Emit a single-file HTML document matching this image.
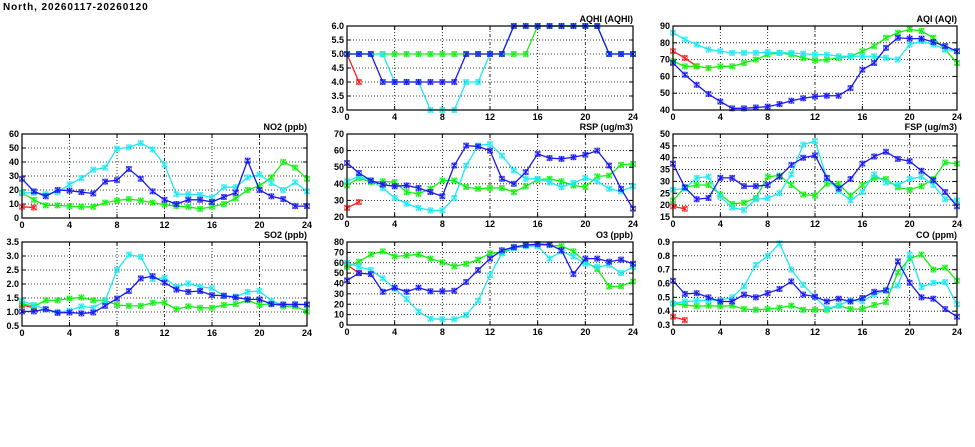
<!DOCTYPE html>
<html><head><meta charset="utf-8"><style>
html,body{margin:0;padding:0;background:#fff;width:975px;height:447px;overflow:hidden}
svg text{font-family:"Liberation Sans",sans-serif;font-weight:bold;font-size:9px;fill:#000}
</style></head><body>
<svg id="s" width="975" height="447" xmlns="http://www.w3.org/2000/svg">
<text x="3" y="10" style="font-size:10px;letter-spacing:0.9px">North, 20260117-20260120</text>
</svg>
<script>
const S=document.getElementById('s');
function el(t,a){const e=document.createElementNS('http://www.w3.org/2000/svg',t);for(const k in a)e.setAttribute(k,a[k]);S.appendChild(e);return e;}
function panel(x0,y0,w,h,ymin,ymax,step,dec,title,series){
  const X=v=>x0+v/24*w, Y=v=>y0+h-(v-ymin)/(ymax-ymin)*h;
  el('rect',{x:x0,y:y0,width:w,height:h,fill:'#fff',stroke:'none'});
  const n=Math.round((ymax-ymin)/step);
  for(let i=0;i<=n;i++){const v=ymin+i*step,y=Y(v);
    if(i>0&&i<n)el('line',{x1:x0,x2:x0+w,y1:y,y2:y,stroke:'#000','stroke-width':0.8,'stroke-dasharray':'1,2'});
    el('line',{x1:x0,x2:x0+4,y1:y,y2:y,stroke:'#000'});el('line',{x1:x0+w-4,x2:x0+w,y1:y,y2:y,stroke:'#000'});
    const t=el('text',{x:x0-3,y:y+3,'text-anchor':'end'});t.textContent=v.toFixed(dec);}
  for(let h2=0;h2<=24;h2+=4){const x=X(h2);
    if(h2>0&&h2<24)el('line',{x1:x,x2:x,y1:y0,y2:y0+h,stroke:'#000','stroke-width':0.8,'stroke-dasharray':(h2==12||h2==20)?'3,2,1,2':'1,2'});
    el('line',{x1:x,x2:x,y1:y0+h,y2:y0+h-4,stroke:'#000'});el('line',{x1:x,x2:x,y1:y0,y2:y0+4,stroke:'#000'});
    const t=el('text',{x:x,y:y0+h+10,'text-anchor':'middle'});t.textContent=h2;}
  const cols=['#ff2020','#10f010','#20e8f0','#1818f0'];
  series.forEach((d,si)=>{const c=cols[si];
    const pts=d.map((v,i)=>[X(i),Y(v)]);
    el('polyline',{points:pts.map(p=>p.join(',')).join(' '),fill:'none',stroke:c,'stroke-width':1.3});
    pts.forEach(p=>{el('rect',{x:p[0]-2.5,y:p[1]-2.5,width:5,height:5,fill:'none',stroke:c,'stroke-width':0.9,opacity:0.6});
      el('path',{d:`M${p[0]-2.5},${p[1]-2.5}L${p[0]+2.5},${p[1]+2.5}M${p[0]+2.5},${p[1]-2.5}L${p[0]-2.5},${p[1]+2.5}M${p[0]},${p[1]-3}V${p[1]+3}`,stroke:c,'stroke-width':1});});
  });
  el('rect',{x:x0,y:y0,width:w,height:h,fill:'none',stroke:'#000','stroke-width':1.2});
  const t=el('text',{x:x0+w,y:y0-4,'text-anchor':'end'});t.textContent=title;
}
const r5=[5,5,5,5,5,5,5,5,5,5,5,5,5,5,5,5,6,6,6,6,6,6,5,5,5];
panel(347,26,286,84,3,6,0.5,1,'AQHI (AQHI)',[[5,4],r5,
[5,5,5,5,4,4,4,3,3,3,4,4,5,5,6,6,6,6,6,6,6,6,5,5,5],
[5,5,5,4,4,4,4,4,4,4,5,5,5,5,6,6,6,6,6,6,6,6,5,5,5]]);
panel(673,26,284,84,40,90,10,0,'AQI (AQI)',[[75,71,66],
[69,66,66,65,66,66,68,70,73,74,73,71,69.5,70,71,72,75,78,83,86,88,87,83,76,68],
[86,82,79,76,75,74,74,74,74.5,74,74,73.5,73,73,72,72,72,72,71,70,79,81,79,76,75],
[68,61,55,49.5,45,41,41,41.5,42,43.5,45.5,47,48,48.5,48.5,53,64,68,77,83,82.5,82.5,80.5,78,75]]);
panel(22,134,285,84,0,60,10,0,'NO2 (ppb)',[[8,7.5],
[18,13,9,9,8.5,8,8,11,12.5,13.5,12.5,11,9.5,8.5,8,6.5,8,10,14,20,23,29,40,36,28],
[18,18,17,18.5,24,28.5,34.5,36,49.5,50.5,53.5,49,38,17,17,16.5,14.5,22,22,29,31,25,20,25.5,19],
[28,19,15.5,20,19.5,18.5,17.5,26,27,35,28,19,13,10,13,13,11.5,15,18,41,20,15.5,13.5,8.5,8.5]]);
panel(347,134,286,83,20,70,10,0,'RSP (ug/m3)',[[25.5,29],
[39,43.5,41,41.5,41,35,34,37,42,42,38,37,37.5,37.5,35,38.5,42.5,43,41.5,39,38,44.5,45,51.5,52],
[41.5,44.5,42,37.5,31.5,28,25.5,24,24,31.5,51,63,64,57,48,43,43,41,38,40.5,43.5,41.5,37,35.5,38.5],
[52.5,46.5,42,39.5,38.5,39,37.5,35,32.5,51,63,62.5,60,43,40,47,58,55.5,55,56,57.5,60,51,37,25]]);
panel(673,134,284,83,15,50,5,0,'FSP (ug/m3)',[[19.5,18.5],
[22,27.5,28.5,28.5,24.5,20.5,21,23,32,32.5,28.5,24.5,24,29,29,24,28.5,31.5,31,27.5,26.5,28,31,38,37.5],
[26.5,27,31.5,32,23.5,19,18,22.5,23,25,33,45.5,47,31.5,26,22,25.5,33,29.5,28.5,31,32,28.5,22.5,22],
[37.5,27.5,22.5,23,31.5,31.5,28,28,28.5,32,37,40,41,31.5,27,31,37.5,40.5,42.5,39.5,38.5,34.5,30.5,25.5,19.5]]);
panel(22,242,285,84,0.5,3.5,0.5,1,'SO2 (ppb)',[[1.25,1.15],
[1.3,1.2,1.42,1.42,1.48,1.52,1.42,1.42,1.25,1.22,1.22,1.33,1.33,1.1,1.2,1.15,1.15,1.25,1.28,1.42,1.25,1.3,1.2,1.2,1.02],
[1.4,1.25,1.1,1.0,1.05,1.2,1.15,1.4,2.5,3.05,2.97,2.18,2.22,1.9,2.02,1.9,1.85,1.58,1.55,1.72,1.75,1.4,1.25,1.28,1.25],
[1.02,1.02,1.1,0.97,0.98,0.95,0.98,1.22,1.48,1.75,2.2,2.28,2.05,1.8,1.72,1.75,1.6,1.58,1.52,1.45,1.45,1.28,1.27,1.27,1.27]]);
panel(347,242,286,83,0,80,10,0,'O3 (ppb)',[[58,50],
[56,61,68,71,66,67,68,64,60.5,56.5,59,63,69,70,75,77,77,77,76,71,61,54,37,37.5,42],
[60,56,53,45,35,25,13,6,5.5,5.5,9.5,23.5,48,69,74,76,76,64,71,66,59,56,58,50,56],
[43,50,49,32,36,32,36,32.5,32.5,33,41.5,53,64,72,75,77,78,77.5,72,49,64,64,61,63,59]]);
panel(673,242,284,83,0.3,0.9,0.1,1,'CO (ppm)',[[0.36,0.335],
[0.455,0.445,0.435,0.44,0.435,0.44,0.415,0.41,0.415,0.425,0.44,0.41,0.41,0.41,0.44,0.415,0.415,0.445,0.465,0.68,0.78,0.81,0.70,0.715,0.62],
[0.455,0.47,0.475,0.48,0.48,0.5,0.58,0.735,0.8,0.89,0.7,0.59,0.5,0.42,0.44,0.48,0.47,0.52,0.55,0.585,0.81,0.575,0.605,0.61,0.45],
[0.62,0.525,0.53,0.5,0.47,0.47,0.52,0.5,0.53,0.56,0.615,0.52,0.505,0.47,0.49,0.47,0.495,0.54,0.55,0.76,0.605,0.5,0.49,0.415,0.36]]);
</script>
</body></html>
